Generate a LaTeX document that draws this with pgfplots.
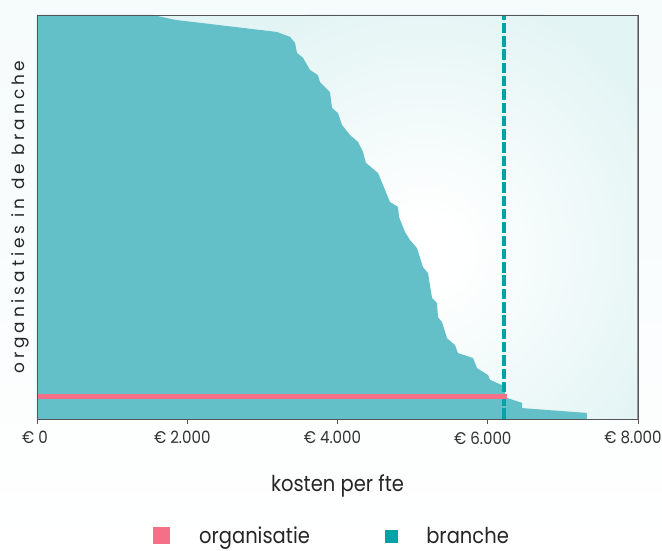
\documentclass[border=0pt]{standalone}
\usepackage{pgfplots}
\pgfplotsset{compat=1.18}
\usepackage{fontspec}
\setmainfont{Poppins}
\newfontfamily\ylfont[LetterSpace=23]{Poppins}
\newfontfamily\narrowfont[FakeStretch=0.89]{Poppins}
\definecolor{areafill}{HTML}{64C0C8}
\definecolor{dashc}{HTML}{00A3A6}
\definecolor{pinkc}{HTML}{F47087}
\definecolor{bgteal}{HTML}{E3F4F4}
\definecolor{pagebg}{HTML}{F6FBFC}
\definecolor{axisc}{HTML}{555555}
\pgfdeclareradialshading{bgshade}{\pgfpointorigin}{color(0bp)=(white); color(3bp)=(white); color(25bp)=(bgteal); color(50bp)=(bgteal)}
\begin{document}
\begin{tikzpicture}
\path[use as bounding box] (0,0) rectangle (662bp,551bp);
\shade[top color=pagebg, bottom color=white, middle color=pagebg!60!white] (0,0) rectangle (662bp,551bp);
\fill[bgteal] (37bp,132bp) rectangle (638bp,536bp);
\begin{scope}
\clip (37bp,132bp) rectangle (638bp,536bp);
\shade[shading=bgshade] (425bp,300bp) circle (265bp);
\end{scope}
\draw[draw=gray!80, line width=1.8bp] (638bp,132bp) -- (638bp,536bp);
\begin{axis}[
  at={(37bp,132bp)}, anchor=south west,
  scale only axis, width=601bp, height=404bp,
  xmin=0, xmax=8000, ymin=0, ymax=100,
  axis on top,
  axis line style={draw=axisc, line width=0.9bp},
  xtick={0,2000,4000,6000,8000},
  xticklabels={\hspace*{6bp}€ 0,€ 2.000,€ 4.000,€ 6.000,€ 8.000},
  ytick=\empty,
  xtick pos=bottom,
  tick align=outside,
  major tick length=5bp,
  tick style={draw=axisc, line width=0.8bp},
  xticklabel style={font=\narrowfont\fontsize{17}{17}\selectfont, text=black!80, yshift=-4bp, xshift=-5bp},
  xlabel={kosten per fte},
  xlabel style={font=\narrowfont\fontsize{22}{22}\selectfont, text=black!85, at={(axis description cs:0.5,-0.165)}, anchor=center},
  ylabel={\ylfont organisaties in de branche},
  ylabel style={font=\fontsize{17}{17}\selectfont, text=black!85, at={(axis description cs:-0.028,0.5)}, anchor=center},
  legend columns=2,
  legend style={draw=none, fill=none, inner sep=0pt, font=\narrowfont\fontsize{22}{22}\selectfont, text=black!85,
    nodes={inner sep=1bp},
    at={(axis description cs:0.49,-0.289)}, anchor=center,
    /tikz/every odd column/.append style={column sep=28bp},
    /tikz/every even column/.append style={column sep=74bp}},
  legend cell align=left,
  legend image code/.code={\fill (0bp,-6bp) rectangle (12bp,6bp);},
]
\addplot[fill=areafill, draw=none, forget plot] coordinates {
(0,0) (7321,0) (7321,1.5) (6456,2.7) (6456,4.0) (6256,5.2) (6190,8.4)
(6030,9.7) (6003,10.9) (5857,12.6) (5804,15.1) (5604,16.3) (5564,18.3)
(5458,20.0) (5391,24.0) (5338,25.2) (5324,28.7) (5258,30.0) (5205,36.1)
(5138,37.6) (5058,42.3) (4965,44.3) (4898,46.3) (4819,50.0) (4805,52.5)
(4699,53.7) (4606,57.9) (4539,60.9) (4379,63.4) (4339,66.1) (4273,68.6)
(4166,70.3) (4060,72.8) (4007,75.7) (3927,77.0) (3900,80.9) (3767,83.4)
(3740,85.1) (3634,86.4) (3541,89.4) (3461,90.6) (3434,93.1) (3368,94.6)
(3235,95.5) (3195,95.8) (1837,98.8) (1544,100) (0,100)
};
\addplot[color=dashc, line width=3.8bp, dash pattern=on 10.5bp off 2.8bp, forget plot] coordinates {(6216,0) (6216,100)};
\addplot[color=pinkc, line width=5bp] coordinates {(0,5.45) (6250,5.45)};
\addlegendentry{organisatie}
\addlegendimage{color=dashc}
\addlegendentry{branche}
\end{axis}
\end{tikzpicture}
\end{document}
